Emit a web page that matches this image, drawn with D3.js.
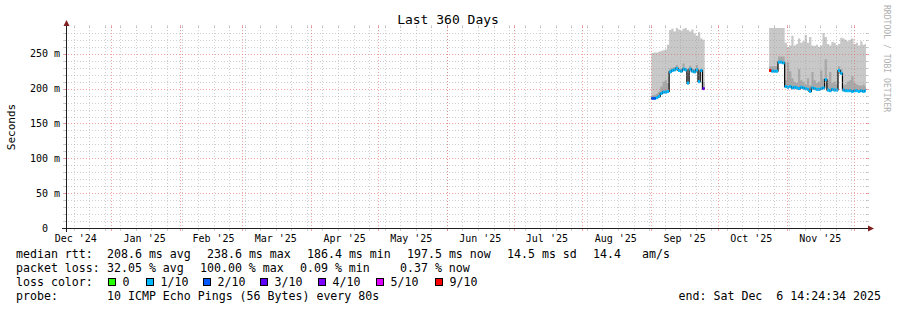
<!DOCTYPE html>
<html>
<head>
<meta charset="utf-8">
<script src="https://cdn.jsdelivr.net/npm/d3@7"></script>
<style>
body { margin: 0; background: #ffffff; }
text { font-family: "DejaVu Sans Mono", monospace; white-space: pre; }
</style>
</head>
<body>
<script>
// time window of the graph
var tStart = new Date(Date.UTC(2024, 11, 11, 14, 24, 34));
var tEnd = new Date(Date.UTC(2025, 11, 6, 14, 24, 34));

var yTicks = [0, 50, 100, 150, 200, 250];

// first block of data, one value per day (ms)
var sepDays = d3.utcDay.range(new Date("2025-09-01"), new Date("2025-09-25"));
var sepMax    = [251, 252, 252, 253, 254, 255, 256, 263, 284, 286, 282, 287, 285, 283, 286, 287, 284, 282, 285, 279, 276, 281, 272, 270];
var sepInner  = [190, 191, 193, 196, 203, 210, 212, 208, 229, 230, 231, 234, 229, 228, 236, 230, 222, 233, 229, 228, 234, 225, 229, 210];
var sepMedian = [186, 186, 187, 189, 193, 195, 195, 196, 224, 226, 227, 229, 226, 225, 228, 227, 208, 228, 225, 224, 227, 210, 226, 200];
var sepLoss   = [2, 2, 1, 1, 1, 1, 1, 1, 1, 1, 1, 1, 1, 1, 1, 1, 1, 1, 1, 1, 1, 1, 1, 3];

// second block of data
var octDays = d3.utcDay.range(new Date("2025-10-24"), new Date("2025-12-07"));
var octMax    = [290, 290, 290, 290, 290, 290, 290, 266, 260, 262, 276, 262, 264, 272, 266, 268, 277, 266, 274, 262,
                 261, 263, 260, 262, 280, 274, 264, 262, 267, 266, 262, 264, 273, 272, 270, 268, 270, 272, 264, 266,
                 262, 268, 263, 264];
var octInner  = [232, 232, 232, 232, 246, 246, 246, 212, 238, 225, 215, 210, 208, 228, 212, 210, 206, 215, 205, 224,
                 212, 208, 210, 226, 214, 242, 212, 224, 208, 210, 206, 232, 228, 205, 206, 210, 212, 218, 208, 206,
                 205, 204, 206, 203];
var octMedian = [226, 225, 225, 225, 238, 238, 237, 203, 202, 203, 201, 202, 201, 200, 202, 201, 200, 199, 196, 201,
                 200, 199, 199, 200, 201, 213, 198, 197, 199, 198, 198, 226, 222, 198, 197, 197, 197, 196, 197, 197,
                 196, 197, 196, 197];
var octLoss   = [9, 1, 1, 1, 1, 1, 1, 1, 1, 1, 1, 1, 1, 1, 1, 1, 1, 1, 1, 1,
                 1, 1, 1, 1, 1, 1, 1, 1, 1, 1, 1, 1, 1, 1, 1, 1, 1, 1, 1, 1,
                 1, 1, 1, 1];

// loss colors (smokeping defaults for 10 pings)
var lossKeys   = [0, 1, 2, 3, 4, 5, 9];
var lossLabels = ["0", "1/10", "2/10", "3/10", "4/10", "5/10", "9/10"];
var lossColors = ["#26ff00", "#00b8ff", "#0059ff", "#5e00ff", "#7e00ff", "#dd00ff", "#ff0000"];

var rttStats  = ["208.6 ms avg", "238.6 ms max", "186.4 ms min", "197.5 ms now", "14.5 ms sd", "14.4", "am/s"];
var lossStats = ["32.05 % avg", "100.00 % max", "0.09 % min", "0.37 % now"];

var w = 897;
var h = 310;
var plotLeft = 66, plotRight = 866, plotTop = 28, plotBottom = 228;

var svg = d3.select("body")
    .append("svg")
    .attr("width", w)
    .attr("height", h);

svg.append("rect")
   .attr("width", w)
   .attr("height", h)
   .attr("fill", "#ffffff");

var x = d3.scaleUtc()
    .domain([tStart, tEnd])
    .range([plotLeft, plotRight]);

var y = d3.scaleLinear()
    .domain([0, 287])
    .range([plotBottom, plotTop]);

svg.append("clipPath")
   .attr("id", "plot")
   .append("rect")
   .attr("x", plotLeft)
   .attr("y", plotTop)
   .attr("width", plotRight - plotLeft)
   .attr("height", plotBottom - plotTop);

function block(days, maxV, inner, med, loss) {
    var pts = days.map(function(d, i) {
        return { t: d, max: maxV[i], inner: inner[i], med: med[i], loss: loss[i] };
    });
    var last = pts[pts.length - 1];
    // closing point so the last day gets its width with step curves
    pts.push({ t: d3.utcDay.offset(last.t, 1), max: last.max, inner: last.inner, med: last.med, loss: last.loss });
    return pts;
}

var blocks = [
    block(sepDays, sepMax, sepInner, sepMedian, sepLoss),
    block(octDays, octMax, octInner, octMedian, octLoss)
];

var data = svg.append("g").attr("clip-path", "url(#plot)");

var outer = d3.area()
    .curve(d3.curveStepAfter)
    .x(function(d) { return x(d.t); })
    .y0(function(d) { return y(d.med - 2); })
    .y1(function(d) { return y(d.max); });

var innerArea = d3.area()
    .curve(d3.curveStepAfter)
    .x(function(d) { return x(d.t); })
    .y0(function(d) { return y(d.med); })
    .y1(function(d) { return y(d.inner); });

var medLine = d3.line()
    .curve(d3.curveStepAfter)
    .x(function(d) { return x(d.t); })
    .y(function(d) { return y(d.med); });

data.selectAll("path.smoke")
    .data(blocks)
    .enter()
    .append("path")
    .attr("class", "smoke")
    .attr("d", outer)
    .attr("fill", "#c8c8c8");

data.selectAll("path.inner")
    .data(blocks)
    .enter()
    .append("path")
    .attr("class", "inner")
    .attr("d", innerArea)
    .attr("fill", "#a8a8a8");

data.selectAll("path.median")
    .data(blocks)
    .enter()
    .append("path")
    .attr("class", "median")
    .attr("d", medLine)
    .attr("fill", "none")
    .attr("stroke", "#000000")
    .attr("stroke-width", 1.2);

var segs = [];
blocks.forEach(function(b) {
    for (var i = 0; i < b.length - 1; i++) segs.push({ a: b[i], b: b[i + 1] });
});

data.selectAll("line.loss")
    .data(segs)
    .enter()
    .append("line")
    .attr("class", "loss")
    .attr("x1", function(d) { return x(d.a.t); })
    .attr("x2", function(d) { return x(d.b.t); })
    .attr("y1", function(d) { return y(d.a.med); })
    .attr("y2", function(d) { return y(d.a.med); })
    .attr("stroke", function(d) { return lossColors[lossKeys.indexOf(d.a.loss)]; })
    .attr("stroke-width", 3);

// grid, drawn on top of the data like rrdtool does
var minorCol = "rgba(150,150,150,0.45)";
var majorCol = "rgba(230,90,90,0.55)";
var grid = svg.append("g").attr("shape-rendering", "crispEdges");

var hMinor = d3.range(10, 290, 10).filter(function(v) { return v % 50 !== 0; });
var hMajor = yTicks.filter(function(v) { return v > 0; });
var vMinor = d3.utcSunday.range(tStart, tEnd);
var vMajor = d3.utcMonth.range(tStart, tEnd);

function hGrid(vals, col) {
    grid.selectAll(null).data(vals).enter().append("line")
        .attr("x1", plotLeft - 1).attr("x2", plotRight + 1)
        .attr("y1", function(d) { return Math.round(y(d)) + 0.5; })
        .attr("y2", function(d) { return Math.round(y(d)) + 0.5; })
        .attr("stroke", col)
        .attr("stroke-dasharray", "1,2");
    grid.selectAll(null).data(vals).enter().append("path")
        .attr("d", function(d) {
            var yy = Math.round(y(d)) + 0.5;
            return "M" + (plotLeft - 3) + "," + yy + "H" + plotLeft + "M" + plotRight + "," + yy + "H" + (plotRight + 3);
        })
        .attr("stroke", col);
}

function vGrid(vals, col) {
    grid.selectAll(null).data(vals).enter().append("line")
        .attr("y1", plotTop - 1).attr("y2", plotBottom + 1)
        .attr("x1", function(d) { return Math.round(x(d)) + 0.5; })
        .attr("x2", function(d) { return Math.round(x(d)) + 0.5; })
        .attr("stroke", col)
        .attr("stroke-dasharray", "1,2");
    grid.selectAll(null).data(vals).enter().append("path")
        .attr("d", function(d) {
            var xx = Math.round(x(d)) + 0.5;
            return "M" + xx + "," + (plotTop - 3) + "V" + plotTop + "M" + xx + "," + plotBottom + "V" + (plotBottom + 3);
        })
        .attr("stroke", col);
}

hGrid(hMinor, minorCol);
vGrid(vMinor, minorCol);
hGrid(hMajor, majorCol);
vGrid(vMajor, majorCol);

// axes
var axisCol = "#1f1f1f";
var arrowCol = "#801f1f";

svg.append("line")
   .attr("x1", plotLeft + 0.5).attr("x2", plotLeft + 0.5)
   .attr("y1", plotBottom + 4).attr("y2", plotTop - 4)
   .attr("stroke", axisCol);

svg.append("line")
   .attr("x1", plotLeft - 4).attr("x2", plotRight + 4)
   .attr("y1", plotBottom + 0.5).attr("y2", plotBottom + 0.5)
   .attr("stroke", axisCol);

svg.append("path")
   .attr("d", "M" + (plotLeft - 2.5) + "," + (plotTop - 2) + "L" + (plotLeft + 3.5) + "," + (plotTop - 2) + "L" + (plotLeft + 0.5) + "," + (plotTop - 8) + "Z")
   .attr("fill", arrowCol);

svg.append("path")
   .attr("d", "M" + (plotRight + 2) + "," + (plotBottom - 2.5) + "L" + (plotRight + 2) + "," + (plotBottom + 3.5) + "L" + (plotRight + 8) + "," + (plotBottom + 0.5) + "Z")
   .attr("fill", arrowCol);

// y tick labels
svg.selectAll("text.ylab")
   .data(yTicks)
   .enter()
   .append("text")
   .attr("class", "ylab")
   .text(function(d) { return d === 0 ? "0  " : d + " m"; })
   .attr("text-anchor", "end")
   .attr("x", 60)
   .attr("y", function(d) { return y(d) + 3.6; })
   .attr("font-size", "10px")
   .attr("fill", "#000");

// month labels sit half a month after the gridline
svg.selectAll("text.xlab")
   .data(vMajor.concat([d3.utcMonth.offset(vMajor[0], -1)]).filter(function(d) {
        return x(d3.utcDay.offset(d, 15)) > plotLeft && x(d3.utcDay.offset(d, 15)) < plotRight;
   }))
   .enter()
   .append("text")
   .attr("class", "xlab")
   .text(function(d) { return d3.utcFormat("%b '%y")(d); })
   .attr("text-anchor", "middle")
   .attr("x", function(d) { return x(d3.utcDay.offset(d, 15)); })
   .attr("y", 241.5)
   .attr("font-size", "10px")
   .attr("fill", "#000");

// title and axis label
svg.append("text")
   .text("Last 360 Days")
   .attr("text-anchor", "middle")
   .attr("x", 448)
   .attr("y", 24)
   .attr("font-size", "13px")
   .attr("fill", "#000");

svg.append("text")
   .text("Seconds")
   .attr("text-anchor", "middle")
   .attr("transform", "translate(15,127) rotate(-90)")
   .attr("font-size", "11px")
   .attr("fill", "#000");

svg.append("text")
   .text("RRDTOOL / TOBI OETIKER")
   .attr("transform", "translate(884,5) rotate(90)")
   .attr("font-size", "8.1px")
   .attr("fill", "#b0b0b0");

// legend
var fs = "11.6px";
var rttX = [107, 207, 307, 407, 507, 593, 642];
var lossX = [107, 200, 300, 400];
var boxX = [108, 146, 203, 260, 318, 376, 435];

function legendText(str, xx, yy, anchor) {
    svg.append("text")
       .text(str)
       .attr("x", xx)
       .attr("y", yy)
       .attr("text-anchor", anchor || "start")
       .attr("font-size", fs)
       .attr("fill", "#000");
}

legendText("median rtt:", 16, 258);
rttStats.forEach(function(s, i) { legendText(s, rttX[i], 258); });

legendText("packet loss:", 16, 272);
lossStats.forEach(function(s, i) { legendText(s, lossX[i], 272); });

legendText("loss color:", 16, 286);
svg.selectAll("rect.lbox")
   .data(lossLabels)
   .enter()
   .append("rect")
   .attr("class", "lbox")
   .attr("x", function(d, i) { return boxX[i] + 0.5; })
   .attr("y", 278.5)
   .attr("width", 7)
   .attr("height", 7)
   .attr("fill", function(d, i) { return lossColors[i]; })
   .attr("stroke", "#000");
lossLabels.forEach(function(s, i) { legendText(s, boxX[i] + 14.5, 286); });

legendText("probe:", 16, 300);
legendText("10 ICMP Echo Pings (56 Bytes) every 80s", 107, 300);
legendText("end: Sat Dec  6 14:24:34 2025", 881, 300, "end");
</script>
</body>
</html>
